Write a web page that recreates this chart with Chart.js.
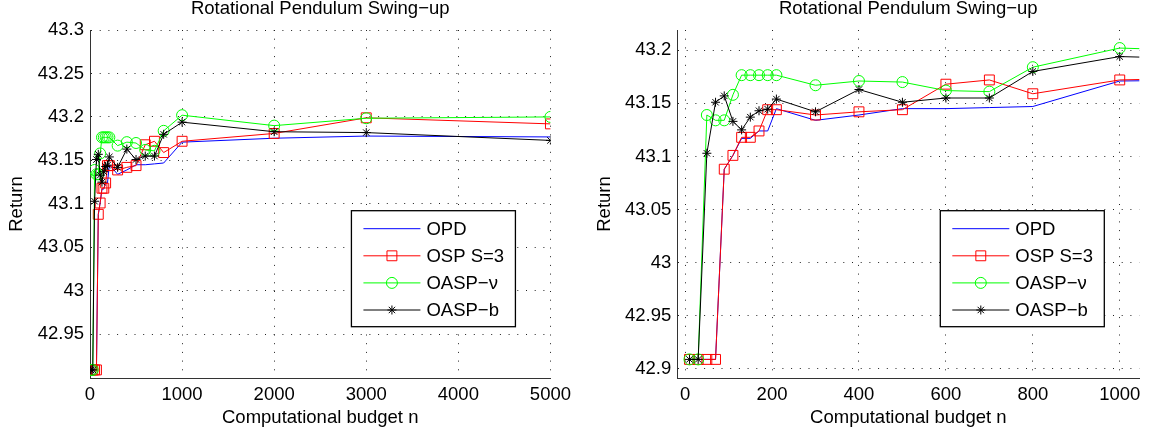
<!DOCTYPE html>
<html>
<head>
<meta charset="utf-8">
<title>Rotational Pendulum Swing-up</title>
<script src="https://cdn.jsdelivr.net/npm/chart.js@4.4.0/dist/chart.umd.min.js"></script>
<style>
    html, body { margin: 0; padding: 0; background: #fff; }
    #wrap { position: relative; width: 1155px; height: 437px; overflow: hidden; }
    canvas { position: absolute; top: 0; }
</style>
</head>
<body>
<div id="wrap">
    <canvas id="leftChart" width="577" height="437" style="left:0;width:577px;height:437px"></canvas>
    <canvas id="rightChart" width="578" height="437" style="left:577px;width:578px;height:437px"></canvas>
</div>
<script>
// 数据 - 计算预算 n
const budgets = [10, 30, 50, 70, 90, 110, 130, 150, 170, 190, 210, 300, 400, 500, 600, 700, 800, 1000, 2000, 3000, 5000];

// 各算法的回报
const opdReturn    = [42.909, 42.909, 42.909, 42.909, 43.088, 43.101, 43.117, 43.117, 43.124, 43.124, 43.145, 43.134, 43.139, 43.145, 43.145, 43.146, 43.147, 43.171, 43.1755, 43.178, 43.177];
const ospReturn    = [42.909, 42.909, 42.909, 42.909, 43.088, 43.101, 43.118, 43.118, 43.124, 43.144, 43.144, 43.139, 43.142, 43.144, 43.168, 43.172, 43.159, 43.172, 43.181, 43.199, 43.192];
const oaspNuReturn = [42.909, 42.909, 43.139, 43.134, 43.134, 43.158, 43.1765, 43.1765, 43.1765, 43.1765, 43.1765, 43.167, 43.171, 43.170, 43.162, 43.161, 43.184, 43.202, 43.190, 43.1985, 43.200];
const oaspBReturn  = [42.909, 42.909, 43.103, 43.151, 43.157, 43.133, 43.125, 43.137, 43.143, 43.1445, 43.154, 43.142, 43.163, 43.151, 43.155, 43.155, 43.180, 43.194, 43.183, 43.182, 43.173];

const seriesNames = ['OPD', 'OSP S=3', 'OASP\u2212\u03bd', 'OASP\u2212b'];

// 刻度
const leftXTicks  = [0, 1000, 2000, 3000, 4000, 5000];
const leftYTicks  = [42.95, 43, 43.05, 43.1, 43.15, 43.2, 43.25, 43.3];
const rightXTicks = [0, 200, 400, 600, 800, 1000];
const rightYTicks = [42.9, 42.95, 43, 43.05, 43.1, 43.15, 43.2];

const chartTitle = 'Rotational Pendulum Swing\u2212up';
const xTitle = 'Computational budget n';
const yTitle = 'Return';

const FONT = "'Liberation Sans', Arial, Helvetica, sans-serif";
const FONT_SIZE = 18.5;

Chart.defaults.font.family = FONT;
Chart.defaults.color = '#000';

// 构建数据集
function buildDatasets() {
    const values = [opdReturn, ospReturn, oaspNuReturn, oaspBReturn];
    const colors = ['#0000ff', '#ff0000', '#00ff00', '#000000'];
    const styles = ['circle', 'rect', 'circle', 'star'];
    const radii = [0, 7, 5.5, 4.5];
    const orders = [3, 2, 1, 0];

    return seriesNames.map((name, i) => ({
        label: name,
        data: budgets.map((b, j) => ({ x: b, y: values[i][j] })),
        borderColor: colors[i],
        backgroundColor: 'transparent',
        borderWidth: 1,
        pointStyle: styles[i],
        pointRadius: radii[i],
        pointHoverRadius: radii[i],
        pointBorderWidth: 1,
        pointBorderColor: colors[i],
        pointBackgroundColor: 'transparent',
        tension: 0,
        order: orders[i]
    }));
}

// 图内图例
const legendBoxPlugin = {
    id: 'legendBox',
    afterDatasetsDraw(chart) {
        const { ctx, chartArea } = chart;
        const left = chartArea.right - 199;
        const right = chartArea.right - 35;
        const top = chartArea.top + 180.7;
        const bottom = chartArea.top + 296.7;

        ctx.save();
        ctx.fillStyle = '#fff';
        ctx.fillRect(left, top, right - left, bottom - top);
        ctx.strokeStyle = '#000';
        ctx.lineWidth = 1.3;
        ctx.strokeRect(left, top, right - left, bottom - top);

        chart.data.datasets.forEach((ds, i) => {
            const y = top + 18 + i * 27.1;
            ctx.strokeStyle = ds.borderColor;
            ctx.lineWidth = 1;
            ctx.setLineDash([]);
            ctx.beginPath();
            ctx.moveTo(left + 12, y);
            ctx.lineTo(left + 69, y);
            ctx.stroke();

            if (ds.pointRadius > 0) {
                ctx.fillStyle = 'transparent';
                Chart.helpers.drawPoint(ctx, {
                    pointStyle: ds.pointStyle,
                    radius: ds.pointRadius,
                    borderWidth: 1,
                    rotation: 0
                }, left + 40.5, y);
            }

            ctx.fillStyle = '#000';
            ctx.font = FONT_SIZE + 'px ' + FONT;
            ctx.textBaseline = 'middle';
            ctx.textAlign = 'left';
            ctx.fillText(ds.label, left + 75, y + 1);
        });
        ctx.restore();
    }
};

function fmt(v) {
    return String(+Number(v).toFixed(2));
}

// 创建图表
function makeChart(canvasId, opts) {
    const el = document.getElementById(canvasId);
    return new Chart(el, {
        type: 'line',
        data: { datasets: buildDatasets() },
        plugins: [legendBoxPlugin],
        options: {
            responsive: false,
            animation: false,
            devicePixelRatio: 1,
            layout: { padding: { left: 0, right: opts.padRight, top: 0, bottom: 0 } },
            plugins: {
                legend: { display: false },
                tooltip: { enabled: false },
                title: {
                    display: true,
                    text: chartTitle,
                    fullSize: false,
                    color: '#000',
                    font: { size: FONT_SIZE, weight: 'normal', lineHeight: 1.0 },
                    padding: { top: 0, bottom: 11.5 }
                }
            },
            scales: {
                x: {
                    type: 'linear',
                    min: opts.xMin,
                    max: opts.xMax,
                    afterBuildTicks: scale => { scale.ticks = opts.xTicks.map(v => ({ value: v })); },
                    afterFit: scale => { scale.height = 59; },
                    ticks: {
                        font: { size: FONT_SIZE },
                        color: '#000',
                        padding: 6,
                        maxRotation: 0,
                        callback: v => fmt(v)
                    },
                    grid: { color: '#222', lineWidth: 1, drawTicks: false },
                    border: { display: true, color: '#333', width: 1, dash: [1, 7.7] },
                    title: {
                        display: true,
                        text: xTitle,
                        color: '#000',
                        font: { size: FONT_SIZE },
                        padding: { top: 0, bottom: 8 }
                    }
                },
                y: {
                    type: 'linear',
                    min: opts.yMin,
                    max: opts.yMax,
                    afterBuildTicks: scale => { scale.ticks = opts.yTicks.map(v => ({ value: v })); },
                    afterFit: scale => { scale.width = opts.yWidth; },
                    ticks: {
                        font: { size: FONT_SIZE },
                        color: '#000',
                        padding: 6,
                        callback: v => fmt(v)
                    },
                    grid: { color: '#222', lineWidth: 1, drawTicks: false },
                    border: { display: true, color: '#333', width: 1, dash: [1, 7.7] },
                    title: {
                        display: true,
                        text: yTitle,
                        color: '#000',
                        font: { size: FONT_SIZE },
                        padding: { top: opts.yTitlePad, bottom: 0 }
                    }
                }
            }
        }
    });
}

makeChart('leftChart', {
    xMin: 0, xMax: 5000, xTicks: leftXTicks,
    yMin: 42.8997, yMax: 43.3, yTicks: leftYTicks,
    yWidth: 90, yTitlePad: 6, padRight: 24
});

makeChart('rightChart', {
    xMin: -18, xMax: 1045, xTicks: rightXTicks,
    yMin: 42.8915, yMax: 43.219, yTicks: rightYTicks,
    yWidth: 100.3, yTitlePad: 17, padRight: 15.7
});
</script>
</body>
</html>
